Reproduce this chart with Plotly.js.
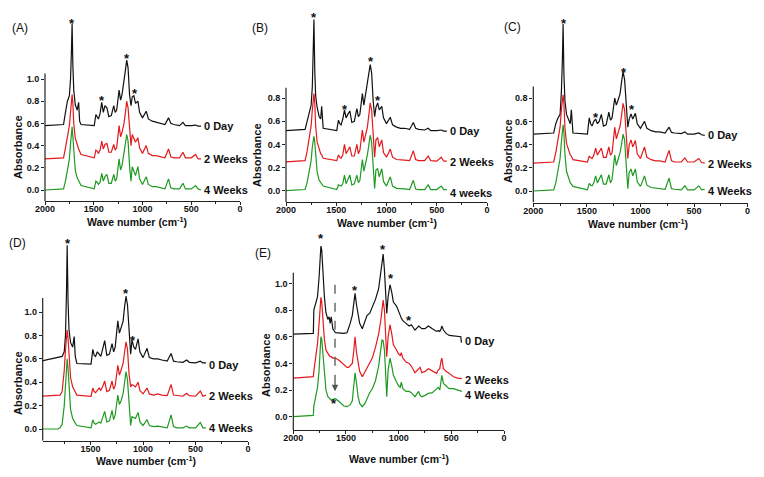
<!DOCTYPE html>
<html>
<head>
<meta charset="utf-8">
<script src="https://cdn.plot.ly/plotly-3.0.1.min.js"></script>
<style>
  html, body { margin: 0; padding: 0; background: #fff; }
  #chart { width: 764px; height: 477px; }
</style>
</head>
<body>
<div id="chart"></div>
<script>
// wavenumber grid (cm-1) shared by panels A-D
var wnPCL = [2000, 1810, 1790, 1770, 1750, 1738, 1728, 1722, 1714, 1705, 1690, 1670, 1655, 1645, 1630,
    1495, 1478, 1465, 1452, 1435, 1418, 1402, 1385, 1365, 1345, 1320, 1295, 1280, 1265, 1240,
    1225, 1210, 1190, 1175, 1162, 1148, 1133, 1118, 1105, 1088, 1072, 1047, 1030, 1000, 962,
    940, 900, 860, 820, 770, 733, 710, 680, 620, 585, 560, 500, 455, 430, 400];

// (A)
var aDay0 = [0.58, 0.59, 0.70, 0.80, 0.85, 1.00, 1.28, 1.50, 1.12, 0.90, 0.77, 0.72, 0.79, 0.62, 0.59,
    0.58, 0.68, 0.66, 0.64, 0.69, 0.79, 0.70, 0.76, 0.74, 0.66, 0.67, 0.76, 0.70, 0.72, 0.90,
    0.81, 0.86, 0.97, 1.08, 1.17, 1.10, 0.86, 0.76, 0.84, 0.85, 0.78, 0.80, 0.70, 0.65, 0.71,
    0.64, 0.62, 0.61, 0.60, 0.59, 0.65, 0.60, 0.59, 0.58, 0.61, 0.58, 0.58, 0.585, 0.575, 0.575];
var aWeek2 = [0.28, 0.29, 0.38, 0.48, 0.58, 0.70, 0.82, 0.86, 0.78, 0.60, 0.47, 0.40, 0.37, 0.35, 0.32,
    0.29, 0.36, 0.35, 0.33, 0.36, 0.44, 0.37, 0.41, 0.42, 0.34, 0.34, 0.41, 0.36, 0.38, 0.58,
    0.48, 0.52, 0.60, 0.70, 0.80, 0.74, 0.52, 0.40, 0.50, 0.46, 0.43, 0.47, 0.38, 0.33, 0.40,
    0.33, 0.31, 0.31, 0.30, 0.29, 0.37, 0.30, 0.29, 0.29, 0.34, 0.29, 0.29, 0.32, 0.28, 0.28];
var aWeek4 = [0.00, 0.01, 0.08, 0.18, 0.28, 0.42, 0.54, 0.57, 0.48, 0.32, 0.18, 0.11, 0.08, 0.06, 0.04,
    0.01, 0.08, 0.07, 0.05, 0.07, 0.15, 0.08, 0.12, 0.14, 0.06, 0.06, 0.14, 0.08, 0.10, 0.28,
    0.18, 0.22, 0.32, 0.42, 0.50, 0.44, 0.22, 0.08, 0.21, 0.16, 0.13, 0.21, 0.10, 0.05, 0.12,
    0.05, 0.03, 0.03, 0.02, 0.01, 0.10, 0.02, 0.01, 0.01, 0.06, 0.01, 0.01, 0.04, 0.01, 0.00];

// (B)
var bDay0 = [0.52, 0.53, 0.60, 0.68, 0.74, 0.90, 1.20, 1.48, 1.05, 0.82, 0.72, 0.64, 0.62, 0.73, 0.54,
    0.52, 0.61, 0.58, 0.57, 0.62, 0.70, 0.63, 0.66, 0.69, 0.59, 0.60, 0.71, 0.64, 0.66, 0.84,
    0.74, 0.82, 0.90, 1.02, 1.09, 1.02, 0.78, 0.64, 0.72, 0.76, 0.70, 0.73, 0.63, 0.58, 0.635,
    0.57, 0.55, 0.54, 0.54, 0.53, 0.59, 0.54, 0.53, 0.525, 0.54, 0.52, 0.52, 0.525, 0.515, 0.515];
var bWeek2 = [0.25, 0.26, 0.34, 0.45, 0.56, 0.70, 0.80, 0.84, 0.76, 0.56, 0.42, 0.35, 0.32, 0.31, 0.28,
    0.26, 0.31, 0.29, 0.28, 0.31, 0.40, 0.32, 0.35, 0.38, 0.30, 0.30, 0.40, 0.32, 0.35, 0.525,
    0.42, 0.47, 0.55, 0.66, 0.76, 0.70, 0.45, 0.29, 0.44, 0.46, 0.38, 0.44, 0.33, 0.29, 0.36,
    0.29, 0.27, 0.27, 0.265, 0.26, 0.345, 0.27, 0.26, 0.26, 0.30, 0.26, 0.255, 0.29, 0.255, 0.255];
var bWeek4 = [0.00, 0.01, 0.07, 0.17, 0.26, 0.38, 0.46, 0.47, 0.42, 0.28, 0.16, 0.09, 0.07, 0.06, 0.04,
    0.01, 0.05, 0.045, 0.04, 0.06, 0.135, 0.06, 0.10, 0.135, 0.05, 0.06, 0.135, 0.07, 0.09, 0.27,
    0.17, 0.22, 0.31, 0.40, 0.48, 0.42, 0.18, 0.02, 0.18, 0.19, 0.12, 0.19, 0.08, 0.04, 0.12,
    0.04, 0.02, 0.02, 0.015, 0.01, 0.09, 0.015, 0.01, 0.01, 0.05, 0.01, 0.01, 0.04, 0.01, 0.01];

// (C)
var cDay0 = [0.49, 0.50, 0.58, 0.63, 0.66, 0.85, 1.15, 1.44, 1.00, 0.78, 0.66, 0.62, 0.58, 0.70, 0.50,
    0.49, 0.63, 0.58, 0.56, 0.60, 0.62, 0.58, 0.60, 0.66, 0.56, 0.57, 0.68, 0.61, 0.63, 0.80,
    0.74, 0.78, 0.84, 0.95, 1.03, 0.96, 0.70, 0.55, 0.62, 0.665, 0.62, 0.67, 0.58, 0.54, 0.60,
    0.54, 0.52, 0.51, 0.51, 0.50, 0.55, 0.505, 0.50, 0.495, 0.51, 0.49, 0.49, 0.50, 0.485, 0.48];
var cWeek2 = [0.24, 0.25, 0.33, 0.44, 0.55, 0.70, 0.80, 0.83, 0.75, 0.55, 0.41, 0.34, 0.31, 0.30, 0.27,
    0.25, 0.30, 0.29, 0.28, 0.31, 0.37, 0.31, 0.34, 0.37, 0.29, 0.29, 0.38, 0.31, 0.33, 0.55,
    0.45, 0.50, 0.56, 0.66, 0.755, 0.70, 0.44, 0.28, 0.40, 0.44, 0.38, 0.435, 0.32, 0.28, 0.38,
    0.29, 0.27, 0.26, 0.26, 0.25, 0.35, 0.26, 0.25, 0.25, 0.285, 0.25, 0.25, 0.28, 0.245, 0.24];
var cWeek4 = [0.00, 0.01, 0.07, 0.18, 0.28, 0.42, 0.54, 0.57, 0.50, 0.32, 0.17, 0.10, 0.07, 0.06, 0.04,
    0.01, 0.066, 0.05, 0.045, 0.07, 0.13, 0.07, 0.10, 0.14, 0.06, 0.06, 0.14, 0.07, 0.10, 0.31,
    0.22, 0.27, 0.33, 0.41, 0.49, 0.44, 0.20, 0.02, 0.16, 0.19, 0.13, 0.19, 0.08, 0.04, 0.13,
    0.05, 0.03, 0.025, 0.02, 0.015, 0.11, 0.02, 0.015, 0.01, 0.045, 0.01, 0.01, 0.045, 0.01, 0.015];

// (D)
var dDay0 = [0.575, 0.61, 0.615, 0.62, 0.66, 0.80, 1.20, 1.57, 1.10, 0.85, 0.74, 0.70, 0.79, 0.62, 0.56,
    0.555, 0.68, 0.63, 0.62, 0.66, 0.64, 0.62, 0.68, 0.755, 0.63, 0.64, 0.73, 0.66, 0.70, 0.925,
    0.82, 0.87, 0.92, 1.05, 1.135, 1.06, 0.80, 0.64, 0.76, 0.70, 0.68, 0.77, 0.66, 0.61, 0.69,
    0.61, 0.60, 0.60, 0.59, 0.58, 0.645, 0.58, 0.575, 0.57, 0.59, 0.57, 0.565, 0.58, 0.565, 0.565];
var dWeek2 = [0.28, 0.285, 0.29, 0.32, 0.50, 0.68, 0.80, 0.845, 0.78, 0.60, 0.44, 0.36, 0.33, 0.31, 0.29,
    0.28, 0.35, 0.32, 0.31, 0.33, 0.35, 0.33, 0.36, 0.41, 0.32, 0.33, 0.41, 0.34, 0.37, 0.545,
    0.46, 0.50, 0.56, 0.66, 0.745, 0.68, 0.47, 0.36, 0.38, 0.37, 0.36, 0.40, 0.33, 0.30, 0.35,
    0.30, 0.29, 0.30, 0.29, 0.285, 0.38, 0.29, 0.285, 0.28, 0.305, 0.285, 0.28, 0.325, 0.28, 0.29];
var dWeek4 = [0.00, 0.00, 0.01, 0.04, 0.20, 0.40, 0.56, 0.60, 0.52, 0.34, 0.17, 0.09, 0.06, 0.05, 0.03,
    0.01, 0.077, 0.05, 0.04, 0.05, 0.06, 0.05, 0.09, 0.15, 0.06, 0.07, 0.16, 0.08, 0.12, 0.29,
    0.21, 0.24, 0.30, 0.40, 0.49, 0.42, 0.20, 0.03, 0.105, 0.10, 0.09, 0.14, 0.06, 0.03, 0.08,
    0.03, 0.02, 0.025, 0.02, 0.01, 0.12, 0.02, 0.01, 0.01, 0.025, 0.01, 0.01, 0.055, 0.01, 0.01];

// (E) has its own grid
var wnE = [2000, 1810, 1805, 1790, 1770, 1755, 1745, 1738, 1730, 1720, 1705, 1690, 1672, 1660, 1650,
    1640, 1625, 1600, 1560, 1520, 1490, 1475, 1460, 1440, 1425, 1414, 1400, 1385, 1370, 1345,
    1320, 1300, 1275, 1250, 1220, 1190, 1170, 1158, 1147, 1135, 1125, 1113, 1100, 1082, 1065,
    1050, 1020, 1000, 985, 975, 960, 930, 900, 880, 845, 810, 797, 780, 750, 718,
    680, 640, 625, 610, 597, 590, 575, 550, 520, 480, 440, 410, 405, 400];
var eDay0 = [0.62, 0.625, 0.80, 0.84, 0.90, 1.05, 1.25, 1.28, 1.25, 1.10, 0.90, 0.78, 0.73, 0.75, 0.70,
    0.75, 0.66, 0.63, 0.625, 0.625, 0.63, 0.66, 0.70, 0.76, 0.85, 0.925, 0.84, 0.76, 0.70, 0.66,
    0.72, 0.76, 0.775, 0.82, 0.88, 0.96, 1.08, 1.16, 1.22, 1.10, 0.95, 0.775, 0.90, 0.99, 0.93,
    0.86, 0.83, 0.78, 0.76, 0.74, 0.72, 0.70, 0.68, 0.69, 0.65, 0.68, 0.67, 0.66, 0.66, 0.68,
    0.66, 0.64, 0.645, 0.64, 0.66, 0.68, 0.65, 0.625, 0.61, 0.605, 0.60, 0.60, 0.56, 0.56];
var eWeek2 = [0.29, 0.30, 0.34, 0.42, 0.55, 0.70, 0.85, 0.895, 0.86, 0.75, 0.58, 0.50, 0.47, 0.46, 0.45,
    0.45, 0.44, 0.44, 0.42, 0.39, 0.37, 0.37, 0.38, 0.40, 0.50, 0.60, 0.48, 0.40, 0.34, 0.30,
    0.34, 0.37, 0.40, 0.44, 0.52, 0.62, 0.72, 0.82, 0.875, 0.80, 0.62, 0.45, 0.60, 0.69, 0.62,
    0.54, 0.50, 0.47, 0.46, 0.48, 0.44, 0.41, 0.40, 0.38, 0.33, 0.36, 0.37, 0.33, 0.34, 0.36,
    0.34, 0.325, 0.35, 0.36, 0.42, 0.44, 0.36, 0.34, 0.325, 0.30, 0.29, 0.29, 0.285, 0.285];
var eWeek4 = [0.00, 0.01, 0.08, 0.13, 0.22, 0.35, 0.52, 0.60, 0.58, 0.48, 0.30, 0.20, 0.15, 0.14, 0.13,
    0.125, 0.13, 0.135, 0.11, 0.08, 0.075, 0.08, 0.09, 0.12, 0.25, 0.33, 0.25, 0.15, 0.10, 0.075,
    0.10, 0.14, 0.18, 0.21, 0.27, 0.38, 0.50, 0.575, 0.57, 0.50, 0.35, 0.15, 0.35, 0.44, 0.38,
    0.31, 0.26, 0.23, 0.22, 0.26, 0.21, 0.19, 0.19, 0.18, 0.15, 0.19, 0.16, 0.15, 0.16, 0.175,
    0.18, 0.21, 0.22, 0.20, 0.28, 0.31, 0.25, 0.23, 0.21, 0.21, 0.20, 0.19, 0.19, 0.19];

// asterisks marking bands
var starWnA = [1722, 1160, 1416, 1079], starAbsA = [1.53, 1.216, 0.83, 0.90];
var starWnB = [1719, 1159, 1414, 1089], starAbsB = [1.52, 1.145, 0.727, 0.81];
var starWnC = [1713, 1152, 1414, 1080], starAbsC = [1.47, 1.05, 0.66, 0.727];
var starWnD = [1718, 1163, 1093], starAbsD = [1.607, 1.18, 0.78];
var starWnE = [1740, 1414, 1145, 1073, 899, 1611], starAbsE = [1.356, 0.97, 1.275, 1.063, 0.743, 0.125];

var labels = ['0 Day', '2 Weeks', '4 Weeks'];
var labelsB = ['0 Day', '2 Weeks', '4 weeks'];
var colors = ['#111111', '#e3191c', '#1f9a22'];

// ---------- layout helpers ----------
var W = 764, H = 477;
var sans = 'Liberation Sans, Arial, sans-serif';

// pixel geometry of each panel
var panels = [
    {tag: '(A)', xl: 45, xr: 240, wnMax: 2000, y0: 190, k: 111, top: 6, axTop: 1.05, ymaxTick: 1.0,
        tagPos: [20, 28], yTitle: [18, 147], xTitle: [137, 221], wn: wnPCL, series: [aDay0, aWeek2, aWeek4],
        names: labels, labShift: [0, 0, 0], stars: [starWnA, starAbsA]},
    {tag: '(B)', xl: 286, xr: 487, wnMax: 2000, y0: 190.7, k: 115.6, top: 6, axTop: 0.89, ymaxTick: 0.8,
        tagPos: [260, 28], yTitle: [257, 155], xTitle: [387, 222], wn: wnPCL, series: [bDay0, bWeek2, bWeek4],
        names: labelsB, labShift: [0, -1, -3], stars: [starWnB, starAbsB]},
    {tag: '(C)', xl: 533.3, xr: 747.6, wnMax: 2000, y0: 191, k: 116, top: 6, axTop: 0.90, ymaxTick: 0.8,
        tagPos: [512, 27], yTitle: [508, 151], xTitle: [638, 223], wn: wnPCL, series: [cDay0, cWeek2, cWeek4],
        names: labels, labShift: [0, -1, -2], stars: [starWnC, starAbsC]},
    {tag: '(D)', xl: 42.7, xr: 248.1, wnMax: 1955, y0: 429, k: 117, top: 234, axTop: 1.12, ymaxTick: 1.0,
        tagPos: [17, 243], yTitle: [18, 383], xTitle: [146, 460.5], wn: wnPCL, series: [dDay0, dWeek2, dWeek4],
        names: labels, labShift: [-2, -1, 0], stars: [starWnD, starAbsD]},
    {tag: '(E)', xl: 293.3, xr: 504, wnMax: 2000, y0: 416.7, k: 133.3, top: 234, axTop: 1.08, ymaxTick: 1.0,
        tagPos: [263, 253], yTitle: [266, 365], xTitle: [399, 458.5], wn: wnE, series: [eDay0, eWeek2, eWeek4],
        names: labels, labShift: [1, -1, -4], stars: [starWnE, starAbsE]}
];

function px(x) { return x / W; }
function py(y) { return 1 - y / H; }

var data = [];
var layout = {
    width: W, height: H,
    margin: {l: 0, r: 0, t: 0, b: 0},
    paper_bgcolor: '#fff', plot_bgcolor: 'rgba(0,0,0,0)',
    showlegend: false,
    font: {family: sans, color: '#111'},
    shapes: [], annotations: []
};

panels.forEach(function(p, i) {
    var n = i === 0 ? '' : String(i + 1);
    var xa = 'x' + n, ya = 'y' + n;
    var yBottomVal = -0.1;
    var bottomPx = p.y0 - yBottomVal * p.k;
    var yTopVal = (p.y0 - p.top) / p.k;

    var yt = [];
    for (var v = 0; v <= p.ymaxTick + 1e-9; v += 0.2) yt.push(Math.round(v * 10) / 10);

    layout['xaxis' + n] = {
        domain: [px(p.xl), px(p.xr)], anchor: ya,
        range: [p.wnMax, 0], showgrid: false, zeroline: false,
        showline: true, linecolor: '#222', linewidth: 1.2,
        tickmode: 'linear', tick0: 0, dtick: 500,
        ticks: 'outside', ticklen: 3, tickwidth: 1, tickcolor: '#222',
        ticklabelstandoff: -4,
        minor: {dtick: 250, tick0: 0, ticks: 'outside', ticklen: 2, tickcolor: '#222'},
        tickfont: {family: sans, size: 9, color: '#111', weight: 'bold'},
        fixedrange: true
    };
    layout['yaxis' + n] = {
        domain: [py(bottomPx), py(p.top)], anchor: xa,
        range: [yBottomVal, yTopVal], showgrid: false, zeroline: false,
        showline: false, tickmode: 'array', tickvals: yt, tickformat: '.1f',
        ticks: 'outside', ticklen: 3, tickwidth: 1, tickcolor: '#222',
        tickfont: {family: sans, size: 9, color: '#111', weight: 'bold'},
        fixedrange: true
    };

    // left axis line stops short of the peaks, like the original
    layout.shapes.push({
        type: 'line', xref: xa + ' domain', yref: ya,
        x0: 0, x1: 0, y0: yBottomVal, y1: p.axTop,
        line: {color: '#222', width: 1.2}
    });

    p.series.forEach(function(ys, s) {
        data.push({
            x: p.wn, y: ys, xaxis: xa, yaxis: ya,
            type: 'scatter', mode: 'lines',
            line: {color: colors[s], width: 1.2},
            hoverinfo: 'skip'
        });
        layout.annotations.push({
            xref: xa, yref: ya, x: p.wn[p.wn.length - 1], y: ys[ys.length - 1],
            text: p.names[s], showarrow: false, xanchor: 'left', yanchor: 'middle',
            xshift: 1, yshift: p.labShift[s],
            font: {family: sans, size: 11, color: '#111', weight: 'bold'}
        });
    });

    p.stars[0].forEach(function(w, j) {
        layout.annotations.push({
            xref: xa, yref: ya, x: w, y: p.stars[1][j], text: '*',
            showarrow: false, xanchor: 'center', yanchor: 'middle', yshift: -3,
            font: {family: sans, size: 13, color: '#111', weight: 'bold'}
        });
    });

    layout.annotations.push({
        xref: 'paper', yref: 'paper', x: px(p.tagPos[0]), y: py(p.tagPos[1]),
        text: p.tag, showarrow: false, xanchor: 'center', yanchor: 'middle',
        font: {family: sans, size: 12, color: '#111'}
    });
    layout.annotations.push({
        xref: 'paper', yref: 'paper', x: px(p.yTitle[0]), y: py(p.yTitle[1]),
        text: 'Absorbance', textangle: -90, showarrow: false, xanchor: 'center', yanchor: 'middle',
        font: {family: sans, size: 11, color: '#111', weight: 'bold'}
    });
    layout.annotations.push({
        xref: 'paper', yref: 'paper', x: px(p.xTitle[0]), y: py(p.xTitle[1]),
        text: 'Wave number (cm<sup>-1</sup>)', showarrow: false, xanchor: 'center', yanchor: 'middle',
        font: {family: sans, size: 10.5, color: '#111', weight: 'bold'}
    });
});

// dashed arrow in (E) pointing at the new band near 1600
layout.shapes.push({
    type: 'line', xref: 'x5', yref: 'y5', x0: 1604, x1: 1604, y0: 0.99, y1: 0.24,
    line: {color: '#555', width: 1.3, dash: 'dash'}
});
layout.annotations.push({
    xref: 'x5', yref: 'y5', axref: 'x5', ayref: 'y5',
    x: 1604, y: 0.19, ax: 1604, ay: 0.26, text: '',
    showarrow: true, arrowhead: 2, arrowsize: 1, arrowwidth: 1.3, arrowcolor: '#555'
});

Plotly.newPlot('chart', data, layout, {displayModeBar: false, staticPlot: true});
</script>
</body>
</html>
